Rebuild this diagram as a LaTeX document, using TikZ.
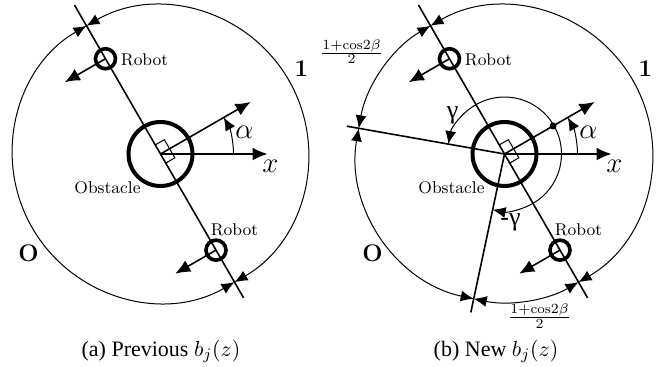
\documentclass[tikz,border=0pt]{standalone}
\usepackage{fontspec}
\newfontfamily\capfont{Liberation Serif}
\usetikzlibrary{arrows.meta,calc}
\tikzset{>={Latex[length=7.5pt,width=6.5pt]},
  rim/.style={line width=.5pt},
  dimarc/.style={rim,{Latex[length=6.5pt,width=5.5pt]}-{Latex[length=6.5pt,width=5.5pt]}},
  ray/.style={line width=.8pt},
  axis/.style={->,line width=.8pt},
  turn/.style={rim,-{Latex[length=6.5pt,width=5.5pt]}},
  obst/.style={line width=2pt},
  robot/.style={line width=1.8pt},
  tag/.style={font=\fontsize{8.5}{10}\selectfont,inner sep=1pt},
  sym/.style={font=\fontsize{14}{16}\selectfont,inner sep=0pt},
  level/.style={font=\fontsize{12}{14}\selectfont\bfseries,inner sep=0pt},
  greek/.style={font=\capfont\fontsize{13}{15}\selectfont,inner sep=0pt},
  frac/.style={font=\fontsize{9.5}{11}\selectfont,inner sep=0pt},
  captxt/.style={font=\capfont\fontsize{11}{13}\selectfont,inner sep=0pt}}

\begin{document}
\begin{tikzpicture}[x=.5pt,y=.5pt]
\useasboundingbox (0,0) rectangle (670,-367);
% parts shared by both panels
\foreach \cx/\p in {160.5/a,504.5/b}{
\begin{scope}[shift={(\cx,-154)}]
\coordinate (o\p) at (0,0);
\draw[obst] (o\p) circle[radius=32];
\draw[ray] (120:172) -- (300:166);
\draw[rim] (120:10.5) -- ++(30:10.5) -- ++(300:21) -- ++(210:10.5);
\draw[axis] (o\p) -- (0:107);
\draw[axis] (o\p) -- (30:104);
\draw[turn] (0:73) arc[start angle=0,end angle=30,radius=73];
\draw[robot] (120:110) circle[radius=10];\draw[robot] (300:111) circle[radius=10];
\draw[axis] (120:110) -- ++(210:47);\draw[axis] (300:111) -- ++(210:47);
\node[tag,anchor=west] (rt\p) at (-42,94) {Robot};
\node[tag] (rb\p) at (74,-76) {Robot};
\node[tag] (ob\p) at (-53,-34) {Obstacle};
\node[sym] (al\p) at (84,22) {$\alpha$};
\node[sym] (x\p) at (110,-12) {$x$};
\node[level] (one\p) at (141,85) {1};
\node[level] (zero\p) at (-132,-99) {O};
\end{scope}}
% (a) previous
\begin{scope}[shift={(160.5,-154)}]
\draw[dimarc] (120:148) arc[start angle=120,end angle=300,radius=148];
\draw[dimarc] (300:148) arc[start angle=300,end angle=480,radius=148];
\end{scope}
% (b) new
\begin{scope}[shift={(504.5,-154)}]
\draw[ray] (ob) -- (170:160);\draw[ray] (ob) -- (258:162);
\fill (30:56) circle[radius=3.5];
\draw[turn] (30:57) arc[start angle=30,end angle=170,radius=57];
\draw[turn] (30:57) arc[start angle=30,end angle=-102,radius=57];
\draw[dimarc] (120:148) arc[start angle=120,end angle=170,radius=148];
\draw[dimarc] (170:148) arc[start angle=170,end angle=258,radius=148];
\draw[dimarc] (258:148) arc[start angle=258,end angle=300,radius=148];
\draw[dimarc] (300:148) arc[start angle=300,end angle=480,radius=148];
\node[greek] (ga) at (-52,39) {γ};
\node[greek] (mga) at (6,-68) {-γ};
\node[frac] (fup) at (-153,102.5) {$\frac{1+\mathrm{cos}2\beta}{2}$};
\node[frac] (fdn) at (35,-162) {$\frac{1+\mathrm{cos}2\beta}{2}$};
\end{scope}
\node[captxt] (capa) at (161,-351) {(a) Previous $b_j(z)$};
\node[captxt] (capb) at (496,-351) {(b) New $b_j(z)$};
\end{tikzpicture}
\end{document}
